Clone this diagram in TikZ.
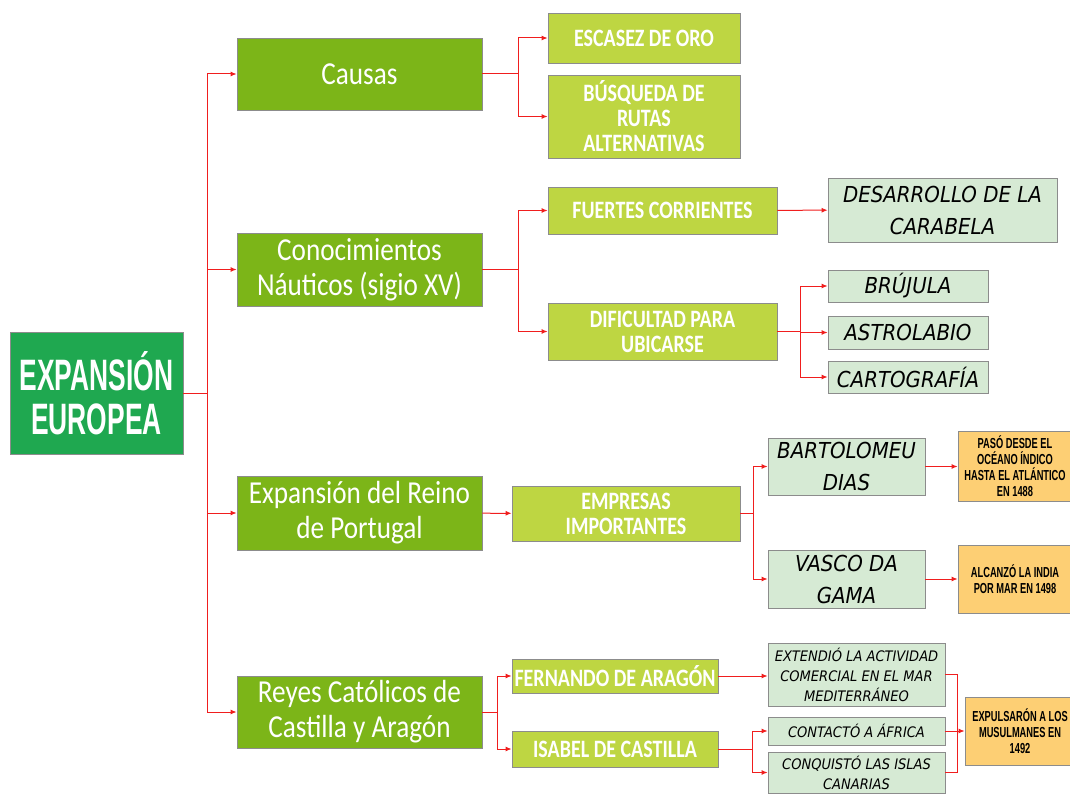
\documentclass[tikz,border=0pt]{standalone}
\usepackage{fontspec}
\setmainfont{Carlito}
\newfontfamily\rootfont[FakeStretch=0.6]{Liberation Sans}
\newfontfamily\headfont[FakeStretch=0.85]{Carlito}
\newfontfamily\itemfont[FakeStretch=0.8]{Carlito}
\newfontfamily\notefont[FakeStretch=0.9]{DejaVu Sans}
\newfontfamily\datefont[FakeStretch=0.64]{Liberation Sans}
\usepackage{xcolor}
\usetikzlibrary{positioning,arrows.meta}
\definecolor{rootgreen}{RGB}{31,168,80}
\definecolor{headgreen}{RGB}{124,181,24}
\definecolor{itemgreen}{RGB}{190,214,66}
\definecolor{notegreen}{RGB}{214,234,212}
\definecolor{dateorange}{RGB}{253,207,116}
\definecolor{linkred}{RGB}{240,30,30}

\begin{document}
\begin{tikzpicture}[
  x=1pt, y=-1pt,
  box/.style={draw=black!45, line width=0.8pt, align=center, inner sep=0pt},
  rootbox/.style={box, fill=rootgreen, text=white, font=\rootfont\bfseries\fontsize{44}{44}\selectfont},
  head/.style={box, fill=headgreen, text=white, minimum width=245pt, font=\headfont\fontsize{32}{35}\selectfont},
  item/.style={box, fill=itemgreen, text=white, font=\itemfont\bfseries\fontsize{25}{25}\selectfont},
  note/.style={box, fill=notegreen, text=black, font=\notefont\itshape\fontsize{22}{32}\selectfont},
  smallnote/.style={note, font=\notefont\itshape\fontsize{14.5}{20}\selectfont},
  date/.style={box, fill=dateorange, text=black, font=\datefont\bfseries\fontsize{14.5}{16}\selectfont},
  link/.style={draw=linkred, line width=1pt},
  arr/.style={link, -{Latex[length=6pt,width=5pt]}},
]
\useasboundingbox (0,0) rectangle (1070,794);
\clip (0,0) rectangle (1070,794);

\node[rootbox, minimum width=173pt, minimum height=122pt] (root) at (96.5,393) {EXPANSIÓN\\EUROPEA};

\node[head, minimum height=72pt] (causas) at (359.5,74) {Causas};
\node[head, minimum height=73pt] (nautica) at (359.5,269.5) {Conocimientos\\Náuticos (sigio XV)};
\node[head, minimum height=74pt] (portugal) at (359.5,513) {Expansión del Reino\\de Portugal};
\node[head, minimum height=72pt] (reyes) at (359.5,712) {Reyes Católicos de\\Castilla y Aragón};

\node[item, minimum width=192pt, minimum height=50pt] (escasez) at (644,38) {ESCASEZ DE ORO};
\node[item, minimum width=192pt, minimum height=83pt] (busqueda) at (644,116.5) {BÚSQUEDA DE\\RUTAS\\ALTERNATIVAS};
\node[item, minimum width=229pt, minimum height=47pt] (fuertes) at (662.5,210.5) {FUERTES CORRIENTES};
\node[item, minimum width=229pt, minimum height=57pt] (dificultad) at (662.5,331.5) {DIFICULTAD PARA\\UBICARSE};
\node[item, minimum width=228pt, minimum height=55pt] (empresas) at (626,513.5) {EMPRESAS\\IMPORTANTES};
\node[item, minimum width=206pt, minimum height=34pt] (fernando) at (615,676) {FERNANDO DE ARAGÓN};
\node[item, minimum width=206pt, minimum height=36pt] (isabel) at (615,749) {ISABEL DE CASTILLA};

\node[note, minimum width=229pt, minimum height=64pt] (carabela) at (942.5,210) {DESARROLLO DE LA\\CARABELA};
\node[note, minimum width=160pt, minimum height=32pt] (brujula) at (908,286) {BRÚJULA};
\node[note, minimum width=160pt, minimum height=33pt] (astrolabio) at (908,332.5) {ASTROLABIO};
\node[note, minimum width=160pt, minimum height=32pt] (cartografia) at (908,377) {CARTOGRAFÍA};
\node[note, minimum width=157pt, minimum height=57pt] (dias) at (846.5,466.5) {BARTOLOMEU\\DIAS};
\node[note, minimum width=157pt, minimum height=58pt] (gama) at (846.5,579) {VASCO DA\\GAMA};
\node[smallnote, minimum width=177pt, minimum height=63pt] (comercio) at (856.5,674.5) {EXTENDIÓ LA ACTIVIDAD\\COMERCIAL EN EL MAR\\MEDITERRÁNEO};
\node[smallnote, minimum width=177pt, minimum height=28pt] (africa) at (856.5,731) {CONTACTÓ A ÁFRICA};
\node[smallnote, minimum width=177pt, minimum height=41pt] (canarias) at (856.5,772.5) {CONQUISTÓ LAS ISLAS\\CANARIAS};

\node[date, minimum width=114pt, minimum height=70pt] (paso) at (1015,466) {PASÓ DESDE EL\\OCÉANO ÍNDICO\\HASTA EL ATLÁNTICO\\EN 1488};
\node[date, minimum width=114pt, minimum height=68pt] (india) at (1015,579) {ALCANZÓ LA INDIA\\POR MAR EN 1498};
\node[date, minimum width=110pt, minimum height=68pt] (musulmanes) at (1020,731) {EXPULSARÓN A LOS\\MUSULMANES EN\\1492};

\coordinate[right=24pt of root.east] (trunk);
\coordinate[right=36pt of causas.east] (causasfork);
\coordinate[right=36pt of nautica.east] (nauticafork);
\coordinate[right=15pt of reyes.east] (reyesfork);
\coordinate[right=23pt of dificultad.east] (dificultadfork);
\coordinate[right=13pt of empresas.east] (empresasfork);
\coordinate[right=34pt of isabel.east] (isabelfork);
\coordinate[right=12pt of africa.east] (merge);

\draw[link] (root.east) -- (trunk);
\foreach \n in {causas,nautica,portugal,reyes}
  \draw[arr] (trunk) |- (\n.west);

\draw[link] (causas.east) -- (causasfork);
\draw[arr] (causasfork) |- (escasez.west);
\draw[arr] (causasfork) |- (busqueda.west);

\draw[link] (nautica.east) -- (nauticafork);
\draw[arr] (nauticafork) |- (fuertes.west);
\draw[arr] (nauticafork) |- (dificultad.west);
\draw[arr] (fuertes) -- (carabela);
\draw[link] (dificultad.east) -- (dificultadfork);
\foreach \n in {brujula,astrolabio,cartografia}
  \draw[arr] (dificultadfork) |- (\n.west);

\draw[arr] (portugal) -- (empresas);
\draw[link] (empresas.east) -- (empresasfork);
\draw[arr] (empresasfork) |- (dias.west);
\draw[arr] (empresasfork) |- (gama.west);
\draw[arr] (dias.east) -- (paso.west |- dias.east);
\draw[arr] (gama) -- (india);

\draw[link] (reyes.east) -- (reyesfork);
\draw[arr] (reyesfork) |- (fernando.west);
\draw[arr] (reyesfork) |- (isabel.west);
\draw[arr] (fernando.east) -- (comercio.west |- fernando.east);
\draw[link] (isabel.east) -- (isabelfork);
\draw[arr] (isabelfork) |- (africa.west);
\draw[arr] (isabelfork) |- (canarias.west);
\draw[link] (comercio.east) -| (merge);
\draw[link] (canarias.east) -| (merge);
\draw[arr] (africa) -- (musulmanes);
\end{tikzpicture}
\end{document}
